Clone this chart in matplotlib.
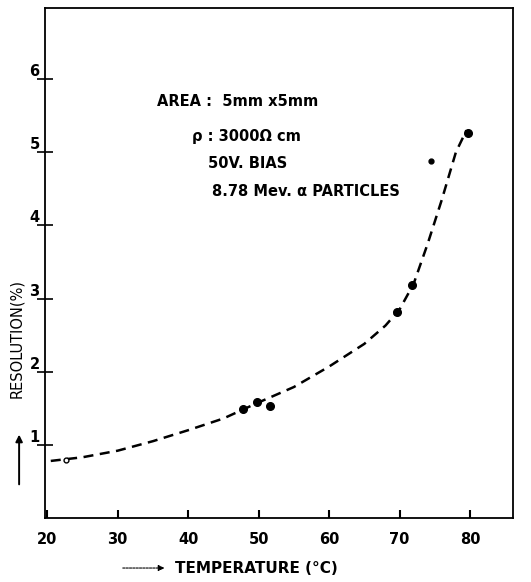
import matplotlib.pyplot as plt

# Measured points: resolution (%) vs temperature (deg C)
TEMP_POINTS = [47.8, 49.8, 51.6, 69.6, 71.8, 79.7]
RES_POINTS = [1.49, 1.58, 1.53, 2.82, 3.19, 5.26]

# Small points (open at room temperature, tiny dot near 75)
TEMP_OPEN = [22.6]
RES_OPEN = [0.79]
TEMP_SMALL = [74.5]
RES_SMALL = [4.88]

# Dashed trend curve
CURVE_T = [20.5, 25, 30, 35, 40, 45, 50, 55, 60, 65, 68, 70, 72, 74, 76, 78, 79.5]
CURVE_R = [0.78, 0.83, 0.92, 1.05, 1.2, 1.36, 1.58, 1.79, 2.07, 2.38, 2.63, 2.85, 3.2, 3.75, 4.35, 5.0, 5.3]

X_TICKS = [20, 30, 40, 50, 60, 70, 80]
Y_TICKS = [1, 2, 3, 4, 5, 6]

NOTES = [
    "AREA :  5mm x5mm",
    "\u03c1 : 3000\u03a9 cm",
    "50V. BIAS",
    "8.78 Mev. \u03b1 PARTICLES",
]

plt.rcParams["font.family"] = ["DejaVu Sans"]

fig = plt.figure(figsize=(5.31, 5.82), dpi=100)
ax = fig.add_axes([0.085, 0.110, 0.881, 0.876])

ax.plot(CURVE_T, CURVE_R, color="black", linestyle=(0, (4, 2.6)), linewidth=1.8)
ax.plot(TEMP_POINTS, RES_POINTS, "o", color="black", markersize=5.5)
ax.plot(TEMP_OPEN, RES_OPEN, "o", markerfacecolor="white", markeredgecolor="black",
        markersize=3.5, markeredgewidth=1)
ax.plot(TEMP_SMALL, RES_SMALL, "o", color="black", markersize=3.5)

ax.set_xlim(19.7, 86.1)
ax.set_ylim(0, 6.97)
ax.set_xticks(X_TICKS)
ax.set_yticks(Y_TICKS)
ax.tick_params(axis="y", direction="inout", length=12, width=1.2, labelsize=10.5, pad=-2)
ax.tick_params(axis="x", direction="in", length=6, width=1.5, labelsize=10.5, pad=10)
for lab in ax.get_xticklabels() + ax.get_yticklabels():
    lab.set_fontweight("bold")
for lab in ax.get_yticklabels():
    lab.set_va("bottom")
for sp in ax.spines.values():
    sp.set_linewidth(1.3)

# Annotation block
note_pos = [(35.6, 5.70), (40.6, 5.22), (42.8, 4.85), (43.4, 4.47)]
for (tx, ty), txt in zip(note_pos, NOTES):
    ax.text(tx, ty, txt, fontsize=10.5, fontweight="bold", va="center", ha="left")

# Axis labels with arrows, as in the original drawing
fig.text(0.032, 0.418, "RESOLUTION(%)", rotation=90, fontsize=10.5,
         ha="center", va="center")
ax.annotate("", xy=(0.036, 0.258), xytext=(0.036, 0.163), xycoords="figure fraction",
            textcoords="figure fraction",
            arrowprops=dict(arrowstyle="-|>", color="black", lw=1.4, mutation_scale=10))

fig.text(0.33, 0.024, "TEMPERATURE (\u00b0C)", fontsize=11, fontweight="bold",
         ha="left", va="center")
ax.annotate("", xy=(0.315, 0.024), xytext=(0.226, 0.024), xycoords="figure fraction",
            textcoords="figure fraction",
            arrowprops=dict(arrowstyle="-|>", color="black", lw=0.8, linestyle=(0, (2, 1)),
                            mutation_scale=9))

fig.savefig("out.png", dpi=100)
